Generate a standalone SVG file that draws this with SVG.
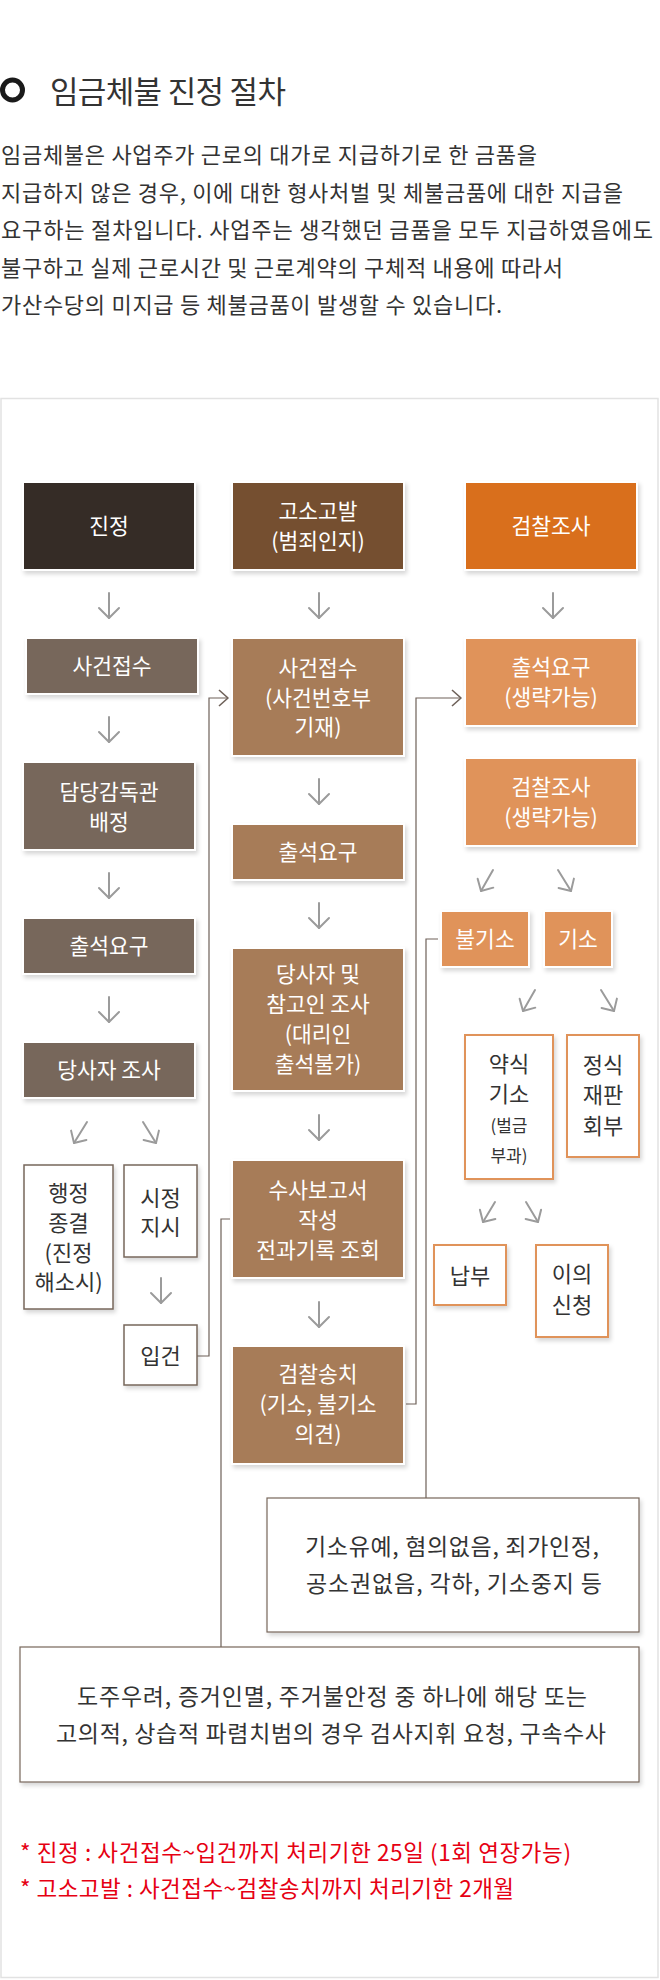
<svg xmlns="http://www.w3.org/2000/svg" width="660" height="1980" viewBox="0 0 660 1980">
<style>
text{font-family:"Noto Sans CJK KR","Noto Sans",sans-serif}
.pad{fill:#fff;filter:url(#sh)}
.k1{fill:#352c26}.k2{fill:#754f30}.k3{fill:#d96f1c}
.s1{fill:#77675b}.s2{fill:#a77c58}.s3{fill:#e0935a}
.w1{fill:#fff;stroke:#77675b;stroke-width:1.5;filter:url(#sh)}
.w3{fill:#fff;stroke:#e0935a;stroke-width:2;filter:url(#sh)}
.wb{fill:#fff;stroke:#77675b;stroke-width:1.2;filter:url(#sh)}
.tw{fill:#fff;font-size:21.5px;text-anchor:middle}
.td{fill:#333;font-size:22px;text-anchor:middle}
.ts{fill:#333;font-size:17px;text-anchor:middle}
.tb{fill:#333;font-size:23px;text-anchor:middle}
.para{fill:#333;font-size:22px}
.red{fill:#e60012;font-size:22.5px}
.ga{fill:none;stroke:#9b9b9b;stroke-width:2;stroke-linecap:round}
.cn{fill:none;stroke:#6e6159;stroke-width:1.2}
</style>
<defs>
<filter id="sh" x="-20%" y="-20%" width="140%" height="150%">
<feDropShadow dx="2" dy="3" stdDeviation="2" flood-color="#000" flood-opacity="0.16"/>
</filter>
<marker id="ad" viewBox="-12 -12 14 24" refX="0" refY="0" markerWidth="14" markerHeight="24" markerUnits="userSpaceOnUse" orient="auto">
<path d="M-10,-10 L0,0 L-10,10" fill="none" stroke="#9b9b9b" stroke-width="2" stroke-linecap="round" stroke-linejoin="round"/>
</marker>
<marker id="ag" viewBox="-12 -12 14 24" refX="0" refY="0" markerWidth="14" markerHeight="24" markerUnits="userSpaceOnUse" orient="auto">
<path d="M-9,-9 L0,0 L-9,9" fill="none" stroke="#9b9b9b" stroke-width="2" stroke-linecap="round" stroke-linejoin="round"/>
</marker>
<marker id="ac" viewBox="-12 -12 14 24" refX="0" refY="0" markerWidth="14" markerHeight="24" markerUnits="userSpaceOnUse" orient="auto">
<path d="M-9,-8 L0,0 L-9,8" fill="none" stroke="#6e6159" stroke-width="1.6" stroke-linejoin="round"/>
</marker>
</defs>
<rect width="660" height="1980" fill="#fff"/>

<g id="header">
<circle cx="12.5" cy="90" r="10" fill="none" stroke="#1a1a1a" stroke-width="5"/>
<text x="50" y="103" textLength="236" style="fill:#333;font-size:31px">임금체불 진정 절차</text>
<text class="para" x="1" y="163" textLength="536">임금체불은 사업주가 근로의 대가로 지급하기로 한 금품을</text>
<text class="para" x="1" y="200.5" textLength="622">지급하지 않은 경우, 이에 대한 형사처벌 및 체불금품에 대한 지급을</text>
<text class="para" x="1" y="238" textLength="652">요구하는 절차입니다. 사업주는 생각했던 금품을 모두 지급하였음에도</text>
<text class="para" x="1" y="275.5" textLength="562">불구하고 실제 근로시간 및 근로계약의 구체적 내용에 따라서</text>
<text class="para" x="1" y="313" textLength="501">가산수당의 미지급 등 체불금품이 발생할 수 있습니다.</text>
</g>

<rect id="frame" x="1" y="398.5" width="657" height="1579" fill="none" stroke="#e2e2e2" stroke-width="1.5"/>

<g id="connectors">
<path class="ga" d="M109,593V618" marker-end="url(#ad)"/>
<path class="ga" d="M109,717V742" marker-end="url(#ad)"/>
<path class="ga" d="M109,873V898" marker-end="url(#ad)"/>
<path class="ga" d="M109,997V1022" marker-end="url(#ad)"/>
<path class="ga" d="M87,1122L74,1143" marker-end="url(#ag)"/>
<path class="ga" d="M143,1122L156,1143" marker-end="url(#ag)"/>
<path class="ga" d="M161,1278V1303" marker-end="url(#ad)"/>
<path class="ga" d="M319,593V618" marker-end="url(#ad)"/>
<path class="ga" d="M319,779V804" marker-end="url(#ad)"/>
<path class="ga" d="M319,903V928" marker-end="url(#ad)"/>
<path class="ga" d="M319,1115V1140" marker-end="url(#ad)"/>
<path class="ga" d="M319,1302V1327" marker-end="url(#ad)"/>
<path class="ga" d="M553,593V618" marker-end="url(#ad)"/>
<path class="ga" d="M493,870L481,891" marker-end="url(#ag)"/>
<path class="ga" d="M558,870L571,891" marker-end="url(#ag)"/>
<path class="ga" d="M535,990L523,1011" marker-end="url(#ag)"/>
<path class="ga" d="M601,990L614,1011" marker-end="url(#ag)"/>
<path class="ga" d="M495,1202L483,1222" marker-end="url(#ag)"/>
<path class="ga" d="M526,1202L538,1222" marker-end="url(#ag)"/>
<path class="cn" d="M197,1356H209V698H228" marker-end="url(#ac)"/>
<path class="cn" d="M406,1404H416V698H461" marker-end="url(#ac)"/>
<path class="cn" d="M438,939H426V1498"/>
<path class="cn" d="M230,1219H221V1647"/>
</g>

<g id="n_jinjeong"><rect class="pad" x="22" y="481" width="174" height="90"/><rect class="k1" x="24" y="483" width="170" height="86"/><text class="tw" x="109" y="534">진정</text></g>
<g id="n_complaint"><rect class="pad" x="231" y="481" width="174" height="90"/><rect class="k2" x="233" y="483" width="170" height="86"/><text class="tw" x="318" y="519">고소고발</text><text class="tw" x="318" y="549">(범죄인지)</text></g>
<g id="n_prosecution"><rect class="pad" x="464" y="481" width="174" height="90"/><rect class="k3" x="466" y="483" width="170" height="86"/><text class="tw" x="551" y="534">검찰조사</text></g>

<g id="n_c1_receipt"><rect class="pad" x="25" y="637" width="174" height="58"/><rect class="s1" x="27" y="639" width="170" height="54"/><text class="tw" x="112" y="674">사건접수</text></g>
<g id="n_c1_assign"><rect class="pad" x="22" y="761" width="174" height="90"/><rect class="s1" x="24" y="763" width="170" height="86"/><text class="tw" x="109" y="800">담당감독관</text><text class="tw" x="109" y="830">배정</text></g>
<g id="n_c1_summon"><rect class="pad" x="22" y="917" width="174" height="58"/><rect class="s1" x="24" y="919" width="170" height="54"/><text class="tw" x="109" y="954">출석요구</text></g>
<g id="n_c1_investigate"><rect class="pad" x="22" y="1041" width="174" height="58"/><rect class="s1" x="24" y="1043" width="170" height="54"/><text class="tw" x="109" y="1078">당사자 조사</text></g>
<g id="n_close"><rect class="w1" x="24" y="1165" width="89" height="144"/><text class="td" x="68.5" y="1201">행정</text><text class="td" x="68.5" y="1231">종결</text><text class="td" x="68.5" y="1261">(진정</text><text class="td" x="68.5" y="1290">해소시)</text></g>
<g id="n_order"><rect class="w1" x="124" y="1165" width="73" height="92"/><text class="td" x="160.5" y="1206">시정</text><text class="td" x="160.5" y="1235">지시</text></g>
<g id="n_book"><rect class="w1" x="124" y="1325" width="73" height="60"/><text class="td" x="160.5" y="1364">입건</text></g>

<g id="n_c2_receipt"><rect class="pad" x="231" y="637" width="174" height="120"/><rect class="s2" x="233" y="639" width="170" height="116"/><text class="tw" x="318" y="676">사건접수</text><text class="tw" x="318" y="706">(사건번호부</text><text class="tw" x="318" y="735">기재)</text></g>
<g id="n_c2_summon"><rect class="pad" x="231" y="823" width="174" height="58"/><rect class="s2" x="233" y="825" width="170" height="54"/><text class="tw" x="318" y="860">출석요구</text></g>
<g id="n_c2_investigate"><rect class="pad" x="231" y="947" width="174" height="145"/><rect class="s2" x="233" y="949" width="170" height="141"/><text class="tw" x="318" y="982">당사자 및</text><text class="tw" x="318" y="1012">참고인 조사</text><text class="tw" x="318" y="1042">(대리인</text><text class="tw" x="318" y="1072">출석불가)</text></g>
<g id="n_report"><rect class="pad" x="231" y="1159" width="174" height="120"/><rect class="s2" x="233" y="1161" width="170" height="116"/><text class="tw" x="318" y="1198">수사보고서</text><text class="tw" x="318" y="1228">작성</text><text class="tw" x="318" y="1258">전과기록 조회</text></g>
<g id="n_transfer"><rect class="pad" x="231" y="1345" width="174" height="120"/><rect class="s2" x="233" y="1347" width="170" height="116"/><text class="tw" x="318" y="1382">검찰송치</text><text class="tw" x="318" y="1412">(기소, 불기소</text><text class="tw" x="318" y="1442">의견)</text></g>

<g id="n_c3_summon"><rect class="pad" x="464" y="637" width="174" height="90"/><rect class="s3" x="466" y="639" width="170" height="86"/><text class="tw" x="551" y="675">출석요구</text><text class="tw" x="551" y="705">(생략가능)</text></g>
<g id="n_c3_investigate"><rect class="pad" x="464" y="757" width="174" height="90"/><rect class="s3" x="466" y="759" width="170" height="86"/><text class="tw" x="551" y="795">검찰조사</text><text class="tw" x="551" y="825">(생략가능)</text></g>
<g id="n_nonindict"><rect class="pad" x="440" y="910" width="90" height="58"/><rect class="s3" x="442" y="912" width="86" height="54"/><text class="tw" x="485" y="947">불기소</text></g>
<g id="n_indict"><rect class="pad" x="543" y="910" width="70" height="58"/><rect class="s3" x="545" y="912" width="66" height="54"/><text class="tw" x="578" y="947">기소</text></g>
<g id="n_summary"><rect class="w3" x="465" y="1035" width="88" height="144"/><text class="td" x="509" y="1072">약식</text><text class="td" x="509" y="1102">기소</text><text class="ts" x="509" y="1132">(벌금</text><text class="ts" x="509" y="1162">부과)</text></g>
<g id="n_trial"><rect class="w3" x="567" y="1035" width="72" height="122"/><text class="td" x="603" y="1073">정식</text><text class="td" x="603" y="1103">재판</text><text class="td" x="603" y="1134">회부</text></g>
<g id="n_pay"><rect class="w3" x="434" y="1245" width="72" height="60"/><text class="td" x="470" y="1284">납부</text></g>
<g id="n_objection"><rect class="w3" x="536" y="1245" width="72" height="92"/><text class="td" x="572" y="1282">이의</text><text class="td" x="572" y="1313">신청</text></g>

<g id="n_reasons"><rect class="wb" x="267" y="1498" width="372" height="134"/><text class="tb" x="452" y="1555" textLength="294">기소유예, 혐의없음, 죄가인정,</text><text class="tb" x="454" y="1592" textLength="296">공소권없음, 각하, 기소중지 등</text></g>
<g id="n_detention"><rect class="wb" x="20" y="1647" width="619" height="135"/><text class="tb" x="332" y="1705" textLength="510">도주우려, 증거인멸, 주거불안정 중 하나에 해당 또는</text><text class="tb" x="331" y="1742" textLength="550">고의적, 상습적 파렴치범의 경우 검사지휘 요청, 구속수사</text></g>

<g id="notes">
<text class="red" x="20" y="1861" textLength="551">* 진정 : 사건접수~입건까지 처리기한 25일 (1회 연장가능)</text>
<text class="red" x="20" y="1897" textLength="494">* 고소고발 : 사건접수~검찰송치까지 처리기한 2개월</text>
</g>
</svg>
